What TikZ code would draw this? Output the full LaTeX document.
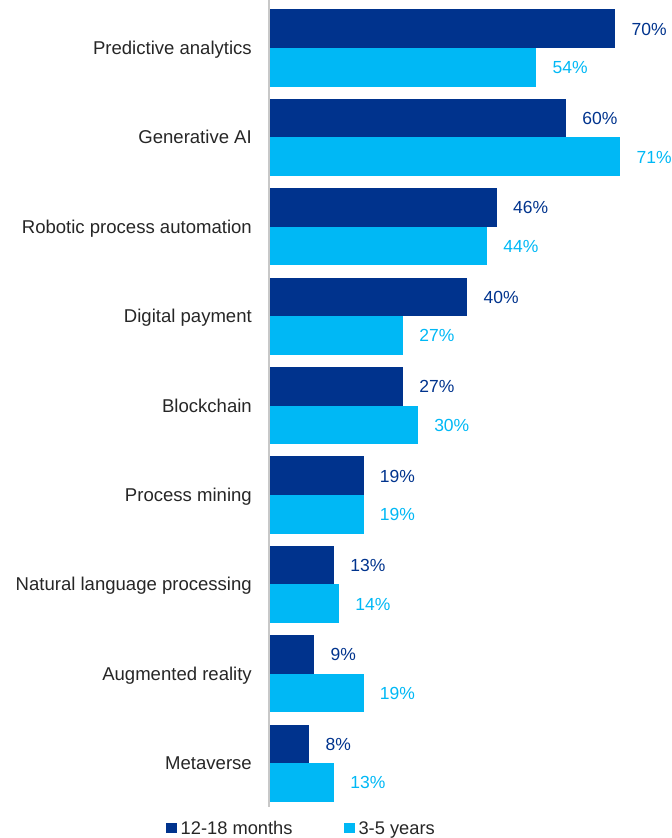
\documentclass[tikz,border=0pt]{standalone}
\usepackage{fontspec}
\setmainfont{Liberation Sans}
\definecolor{navy}{HTML}{00338D}
\definecolor{cyanbar}{HTML}{00B8F5}
\definecolor{txt}{HTML}{262626}
\definecolor{axisgray}{HTML}{C8C8C8}
\begin{document}
\begin{tikzpicture}[x=1pt,y=1pt,
  font=\fontsize{18.55}{22}\selectfont,
  bar/.style={rectangle, inner sep=0pt, outer sep=0pt, anchor=north west, minimum height=38.6pt},
  darkbar/.style={bar, fill=navy},
  lightbar/.style={bar, fill=cyanbar},
  vallabel/.style={anchor=base west, inner sep=0pt, font=\fontsize{17.5}{21}\selectfont},
  catlabel/.style={anchor=base east, inner sep=0pt, text=txt},
  legsq/.style={rectangle, inner sep=0pt, minimum size=10.3pt, anchor=north west},
  legtext/.style={anchor=base west, inner sep=0pt, text=txt, font=\fontsize{18.3}{22}\selectfont},
]
\useasboundingbox (0,-838) rectangle (672,0);
\foreach \i/\name/\a/\b in {0/Predictive analytics/70/54,1/Generative AI/60/71,2/Robotic process automation/46/44,3/Digital payment/40/27,4/Blockchain/27/30,5/Process mining/19/19,6/Natural language processing/13/14,7/Augmented reality/9/19,8/Metaverse/8/13}{
  \pgfmathsetmacro\top{-9.3-89.4*\i}
  \pgfmathsetmacro\mid{\top-38.6}
  \node[darkbar, minimum width=\a*4.935pt] (d\i) at (270,\top) {};
  \node[lightbar, minimum width=\b*4.935pt] (l\i) at (270,\mid) {};
  \node[vallabel, text=navy] (dv\i) at ([xshift=16pt,yshift=-6.4pt]d\i.east) {\a\%};
  \node[vallabel, text=cyanbar] (lv\i) at ([xshift=16pt,yshift=-6.4pt]l\i.east) {\b\%};
  \node[catlabel] (c\i) at (252,\mid-6.6) {\name};
}
\coordinate (axtop) at (269,0);
\coordinate (axbot) at (269,-807.3);
\draw[axisgray, line width=1.4pt] (axtop) -- (axbot);
\node[legsq, fill=navy] (lg1) at (166,-822.3) {};
\node[legtext] (lt1) at (180.5,-834.3) {12-18 months};
\node[legsq, fill=cyanbar] (lg2) at (344.2,-822.3) {};
\node[legtext] (lt2) at (358.3,-834.3) {3-5 years};
\end{tikzpicture}
\end{document}
